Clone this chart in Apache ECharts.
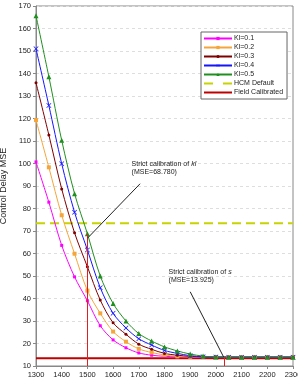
<!DOCTYPE html>
<html>
<head>
<meta charset="utf-8">
<script src="https://cdn.jsdelivr.net/npm/echarts@6/dist/echarts.min.js"></script>
<style>
  html, body { margin: 0; padding: 0; background: #fff; }
  #chart { width: 298px; height: 385px; }
</style>
</head>
<body>
<div id="chart"></div>
<script>
// x values (s), every 50
var xs = [1300,1350,1400,1450,1500,1550,1600,1650,1700,1750,1800,1850,1900,1950,2000,2050,2100,2150,2200,2250,2300];
var ki01 = [100.7,82.8,63.6,49.6,39.0,27.9,21.6,18.1,15.8,14.8,14.3,14.1,14.0,13.95,13.93,13.925,13.925,13.925,13.925,13.925,13.925];
var ki02 = [119.3,98.3,77.0,59.9,43.5,33.4,25.3,20.8,17.6,16.0,14.9,14.3,14.1,13.95,13.93,13.925,13.925,13.925,13.925,13.925,13.925];
var ki03 = [135.9,112.7,88.7,69.2,54.1,39.3,29.2,24.1,19.7,17.4,15.6,14.8,14.3,14.0,13.95,13.925,13.925,13.925,13.925,13.925,13.925];
var ki04 = [151.0,125.8,99.9,78.3,61.6,44.8,33.4,26.9,22.1,19.3,16.9,15.6,14.6,14.1,13.95,13.925,13.925,13.925,13.925,13.925,13.925];
var ki05 = [165.7,138.6,110.3,86.6,68.78,50.0,37.8,30.0,24.4,21.1,18.5,16.7,15.3,14.4,13.95,13.925,13.925,13.925,13.925,13.925,13.925];
var hcmDefault = 73.4;
var fieldCalibrated = 13.4;
var bestS = 2032;
var bestKlMse = 68.78, bestSMse = 13.925;

var font = 'Liberation Sans, Arial, sans-serif';
var chart = echarts.init(document.getElementById('chart'));

function pairs(arr) {
    return xs.map(function (x, i) { return [x, arr[i]]; });
}
function flat(v) {
    return [[xs[0], v], [xs[xs.length - 1], v]];
}
function kiSeries(name, data, color, symbol, size) {
    return {
        name: name, type: 'line', data: pairs(data),
        smooth: 0.3, symbol: symbol, symbolSize: size,
        lineStyle: { color: color, width: 1 },
        itemStyle: { color: color },
        z: 3
    };
}
var cross = 'path://M0,1L1,0L5,4L9,0L10,1L6,5L10,9L9,10L5,6L1,10L0,9L4,5Z';

chart.setOption({
    animation: false,
    textStyle: { fontFamily: font },
    grid: { left: 36, top: 6, right: 5, bottom: 19, show: true, borderColor: '#888', borderWidth: 1, outerBoundsMode: 'none' },
    legend: {
        orient: 'vertical', left: 201, top: 32,
        data: [
            { name: 'Kl=0.1' }, { name: 'Kl=0.2' }, { name: 'Kl=0.3' }, { name: 'Kl=0.4' }, { name: 'Kl=0.5' },
            { name: 'HCM Default', icon: 'path://M0,4H9V6H0Z M19,4H28V6H19Z' },
            { name: 'Field Calibrated', icon: 'path://M0,4H28V6H0Z' }
        ],
        itemWidth: 28, itemHeight: 4, itemGap: 2,
        padding: [3, 4, 3, 2],
        borderColor: '#666', borderWidth: 1, backgroundColor: '#fff',
        textStyle: { fontSize: 7, color: '#222', fontFamily: font, padding: [0, 0, 0, -3] }
    },
    xAxis: {
        type: 'value', min: 1300, max: 2300, interval: 100,
        axisLine: { lineStyle: { color: '#888' } },
        axisTick: { lineStyle: { color: '#888' }, length: 3 },
        axisLabel: { fontSize: 7.5, color: '#222', margin: 5, formatter: function (v) { return String(v); } },
        splitLine: { show: false }
    },
    yAxis: {
        type: 'value', min: 10, max: 170, interval: 10,
        name: 'Control Delay MSE', nameLocation: 'middle', nameGap: 20,
        nameTextStyle: { fontSize: 9, color: '#222' },
        axisLine: { show: true, lineStyle: { color: '#888' } },
        axisTick: { show: true, lineStyle: { color: '#888' }, length: 3 },
        axisLabel: { fontSize: 7.5, color: '#222', margin: 5 },
        splitLine: { lineStyle: { color: '#dedede', type: [3, 3], width: 1 } }
    },
    series: [
        kiSeries('Kl=0.1', ki01, '#ff00ff', 'rect', 3),
        kiSeries('Kl=0.2', ki02, '#f5a53a', 'rect', 4),
        kiSeries('Kl=0.3', ki03, '#800000', 'circle', 3),
        kiSeries('Kl=0.4', ki04, '#1515ff', cross, 5),
        kiSeries('Kl=0.5', ki05, '#1f8f1f', 'triangle', 5),
        {
            name: 'HCM Default', type: 'line', data: flat(hcmDefault),
            symbol: 'none', lineStyle: { color: '#c8d400', width: 2, type: [9, 5] }, itemStyle: { color: '#c8d400' }, z: 2
        },
        {
            name: 'Field Calibrated', type: 'line', data: flat(fieldCalibrated),
            symbol: 'none', lineStyle: { color: '#c00000', width: 2 }, itemStyle: { color: '#c00000' }, z: 2,
            markLine: {
                silent: true, symbol: 'none', label: { show: false },
                data: [
                    [{ coord: [1500, 10], lineStyle: { color: '#e02020', width: 1, type: 'solid' } }, { coord: [1500, bestKlMse] }],
                    [{ coord: [bestS, 10], lineStyle: { color: '#e02020', width: 1, type: 'solid' } }, { coord: [bestS, bestSMse] }],
                    [{ coord: [1705, 91], lineStyle: { color: '#222', width: 1, type: 'solid' } }, { coord: [1502, 67] }],
                    [{ coord: [1900, 43], lineStyle: { color: '#222', width: 1, type: 'solid' } }, { coord: [2030, 14] }]
                ]
            }
        }
    ]
});

// annotation text placed in data space
var p1 = chart.convertToPixel({ gridIndex: 0 }, [1672, 98]);
var p2 = chart.convertToPixel({ gridIndex: 0 }, [1816, 50]);
var rich = {
    a: { fontSize: 7, fontFamily: font, fill: '#222', lineHeight: 8.5 },
    i: { fontSize: 7, fontFamily: font, fill: '#222', fontStyle: 'italic', lineHeight: 8.5 }
};
chart.setOption({
    graphic: [
        {
            type: 'text', x: p1[0], y: p1[1],
            style: { text: '{a|Strict calibration of }{i|kl}\n{a|(MSE=68.780)}', rich: rich, verticalAlign: 'middle' }
        },
        {
            type: 'text', x: p2[0], y: p2[1],
            style: { text: '{a|Strict calibration of }{i|s}\n{a|(MSE=13.925)}', rich: rich, verticalAlign: 'middle' }
        }
    ]
});
</script>
</body>
</html>
